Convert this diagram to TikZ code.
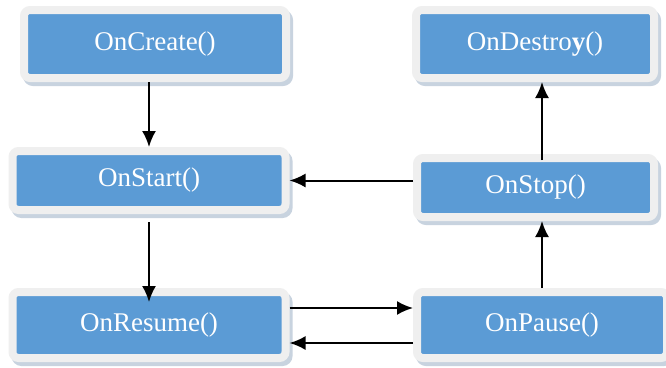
\documentclass[tikz,border=0pt]{standalone}
\usepackage{fontspec}
\setmainfont{Liberation Serif}
\usetikzlibrary{arrows.meta,shadows}
\definecolor{boxblue}{RGB}{91,155,213}
\definecolor{boxframe}{RGB}{239,239,239}
\definecolor{boxshadow}{RGB}{200,211,223}
\tikzset{
  state/.style={fill=boxblue, draw=boxframe, line width=8pt, rounded corners=6pt,
    inner sep=0pt, text=white, font=\fontsize{27}{30}\selectfont,
    drop shadow={shadow xshift=3pt, shadow yshift=-4pt, fill=boxshadow,
      draw=boxshadow, line width=8pt, opacity=1}},
  arr/.style={-{Latex[length=16pt,width=14pt]}, line width=2pt}
}
\begin{document}
\begin{tikzpicture}[x=1pt,y=-1pt]
    \useasboundingbox (0,0) rectangle (666,367);
    \node[state, minimum width=262pt, minimum height=68pt] (create) at (155,44) {OnCreate()};
    \node[state, minimum width=238pt, minimum height=68pt] (destroy) at (535,44) {OnDestro\textbf{y}()};
    \node[state, minimum width=273pt, minimum height=59pt] (start) at (149,180.5) {OnStart()};
    \node[state, minimum width=237pt, minimum height=59pt] (stop) at (535.5,187.5) {OnStop()};
    \node[state, minimum width=273pt, minimum height=66pt] (resume) at (149,325) {OnResume()};
    \node[state, minimum width=250pt, minimum height=66pt] (pause) at (542,325) {OnPause()};
    \draw[arr] (create.south -| start) -- (start.north);
    \draw[arr, shorten <=8pt] (start.south) -- ([yshift=-14pt]resume.north);
    \draw[arr] ([yshift=17pt]resume.east) -- ([yshift=17pt]resume.east -| pause.west);
    \draw[arr] ([yshift=-18pt]pause.west) -- ([yshift=-18pt]pause.west -| resume.east);
    \draw[arr] (pause.north) -- (pause.north |- stop.south);
    \draw[arr] (stop.west |- start) -- (start.east);
    \draw[arr, shorten <=-6pt] (pause.north |- stop.north) -- (pause.north |- destroy.south);
  \end{tikzpicture}
\end{document}
